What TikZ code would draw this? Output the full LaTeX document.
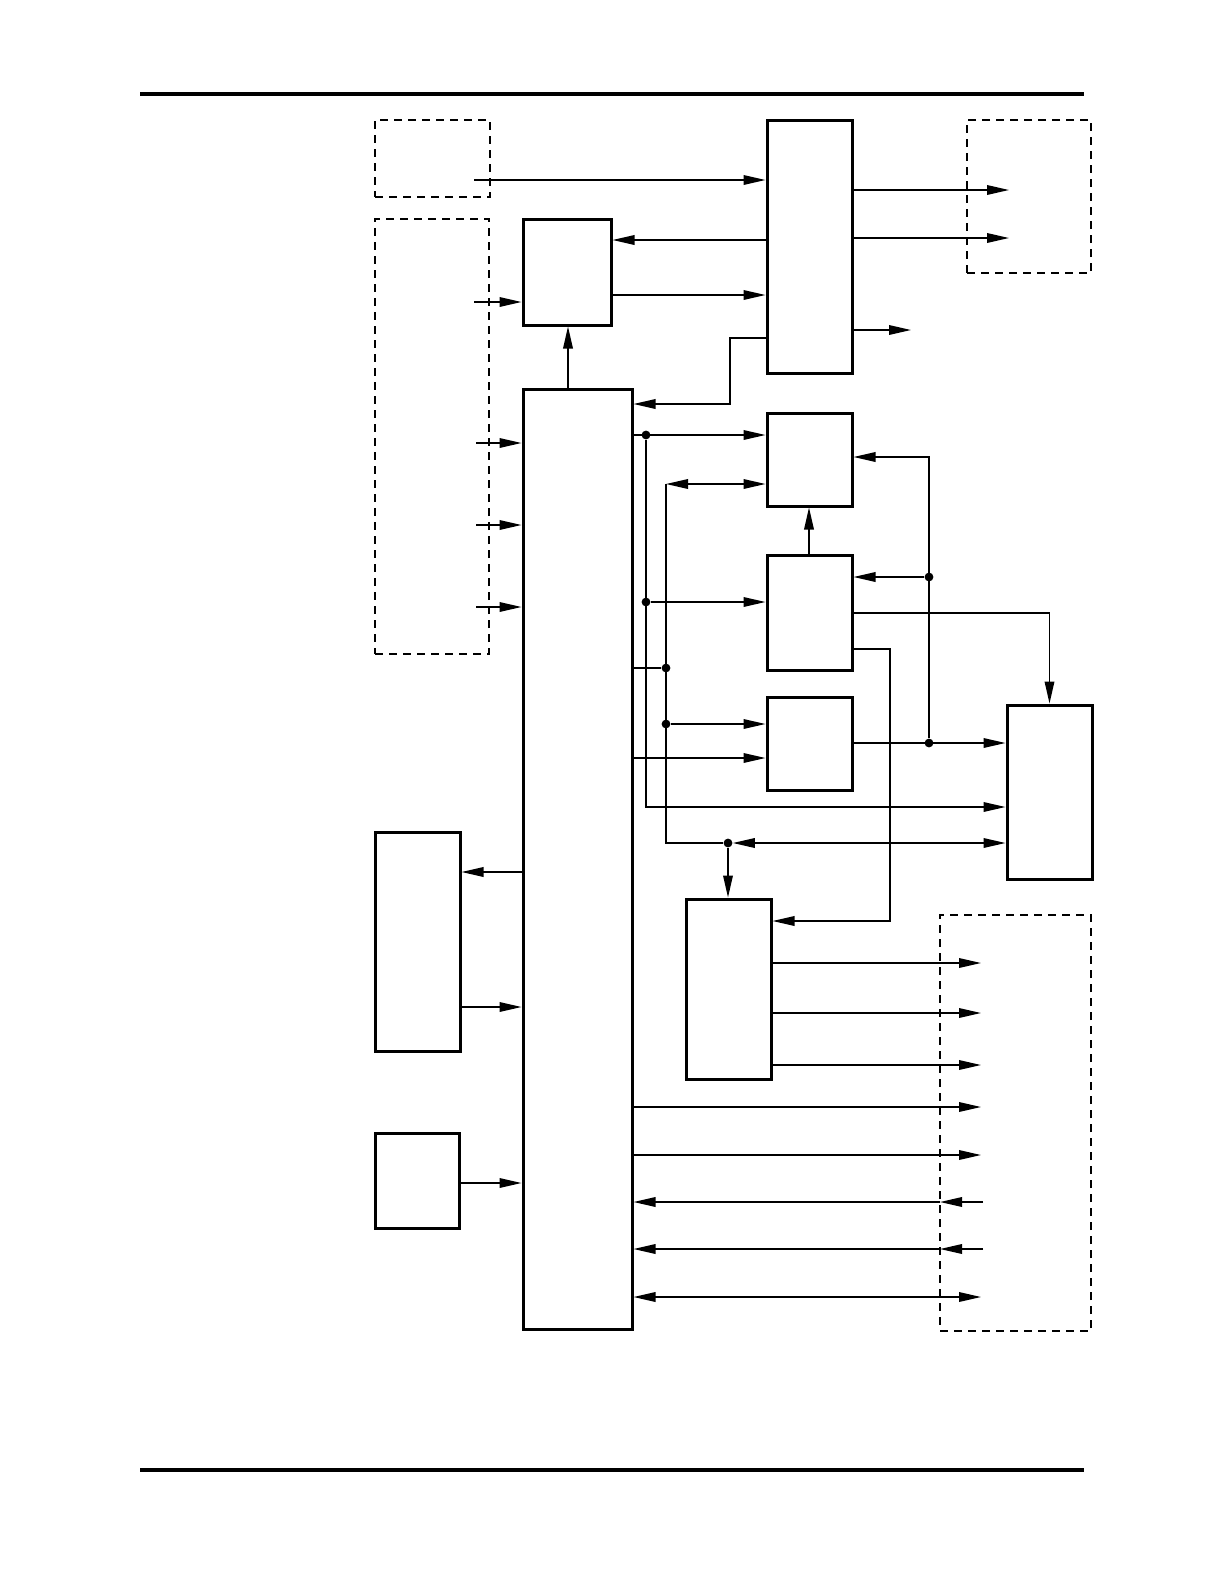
\documentclass[tikz,border=0pt]{standalone}
\usepackage{tikz}
\usetikzlibrary{arrows.meta,fit,calc}

\begin{document}
\begin{tikzpicture}[
  x=0.5bp, y=-0.5bp,
  blk/.style   = {draw, line width=1.5bp, inner sep=0pt, fit={#1}},
  ext/.style   = {draw, dash pattern=on 4bp off 3bp, line width=0.6bp,
                  inner sep=0pt, fit={#1}},
  wire/.style  = {line width=0.75bp},
  arr/.style   = {wire, -{Triangle[length=11bp,width=4.8bp]}},
  biarr/.style = {wire, {Triangle[length=11bp,width=4.8bp]}-{Triangle[length=11bp,width=4.8bp]}},
  dot/.style   = {circle, fill, inner sep=0pt, minimum size=4.4bp}
]
\useasboundingbox (0,0) rectangle (1224,1584);

% page rules
\draw[line width=2bp] (140,94) -- (1084,94);
\draw[line width=2bp] (140,1470) -- (1084,1470);

% external areas
\node[ext={(375,120) (490,197)}] (srcA) {};
\node[ext={(375,219) (489,654)}] (srcB) {};
\node[ext={(967,120) (1091,273)}] (sinkA) {};
\node[ext={(940,915) (1091,1331)}] (sinkB) {};

% blocks
\node[blk={(523,219) (611,325)}] (ctl) {};
\node[blk={(767,120) (852,373)}] (hub) {};
\node[blk={(523,389) (632,1329)}] (main) {};
\node[blk={(767,413) (852,506)}] (midA) {};
\node[blk={(767,555) (852,670)}] (midB) {};
\node[blk={(767,697) (852,790)}] (midC) {};
\node[blk={(1007,705) (1092,879)}] (right) {};
\node[blk={(686,899) (771,1079)}] (drv) {};
\node[blk={(375,832) (460,1051)}] (mem) {};
\node[blk={(375,1133) (459,1228)}] (clk) {};

% top part
\coordinate (inA) at (474,180);
\coordinate (inB) at (474,302);
\draw[arr] (inA) -- (hub.west |- inA);
\draw[arr] (hub.west |- 0,240) -- (ctl.east |- 0,240);
\draw[arr] (ctl.east |- 0,295) -- (hub.west |- 0,295);
\draw[arr] (inB) -- (ctl.west |- inB);
\draw[arr] (main.north -| 568,0) -- (ctl.south -| 568,0);
\draw[arr] (hub.west |- 0,338) -| (730,404) -- (main.east |- 0,404);
\foreach \y in {190,238}{
  \draw[arr] (hub.east |- 0,\y) -- (1009,\y);
}
\draw[arr] (hub.east |- 0,330) -- (911,330);

\foreach \y in {443,525,607}{
  \draw[arr] (476,\y) -- (main.west |- 0,\y);
}

% middle part
\node[dot] (jc) at (646,435) {};
\node[dot] (jd) at (646,602) {};
\node[dot] (je) at (666,668) {};
\node[dot] (jf) at (666,724) {};
\node[dot] (jg) at (728,843) {};
\node[dot] (jh) at (929,577) {};
\node[dot] (ji) at (929,743) {};

\draw[arr] (main.east |- jc) -- (midA.west |- jc);
\draw[arr] (jd) -- (midB.west |- jd);
\draw[arr] (jc) -- (646,807) -- (right.west |- 0,807);
\draw[biarr] (666,484) -- (midA.west |- 0,484);
\draw[wire] (main.east |- je) -- (je);
\draw[arr] (jf) -- (midC.west |- jf);
\draw[arr] (main.east |- 0,758) -- (midC.west |- 0,758);
\draw[wire] (666,484) -- (666,843) -- (jg);
\draw[biarr] (jg.east) -- (right.west |- jg);
\draw[arr] (jg) -- (drv.north -| jg);
\draw[arr] (midB.north -| 809,0) -- (midA.south -| 809,0);
\draw[arr] (ji) -- (929,457) -- (midA.east |- 0,457);
\draw[arr] (jh) -- (midB.east |- jh);
\draw[arr] (midC.east |- ji) -- (right.west |- ji);
\draw[arr] (midB.east |- 0,613) -| (right.north);
\draw[arr] (midB.east |- 0,649) -| (890,921) -- (drv.east |- 0,921);

% lower part
\foreach \y in {963,1013,1065}{
  \draw[arr] (drv.east |- 0,\y) -- (981,\y);
}
\foreach \y in {1107,1155}{
  \draw[arr] (main.east |- 0,\y) -- (981,\y);
}
\foreach \y in {1202,1249}{
  \draw[arr] (983,\y) -- (940,\y);
  \draw[arr] (940,\y) -- (main.east |- 0,\y);
}
\draw[biarr] (main.east |- 0,1297) -- (981,1297);

\draw[arr] (main.west |- 0,872) -- (mem.east |- 0,872);
\draw[arr] (mem.east |- 0,1007) -- (main.west |- 0,1007);
\draw[arr] (clk.east |- 0,1183) -- (main.west |- 0,1183);
\end{tikzpicture}
\end{document}
